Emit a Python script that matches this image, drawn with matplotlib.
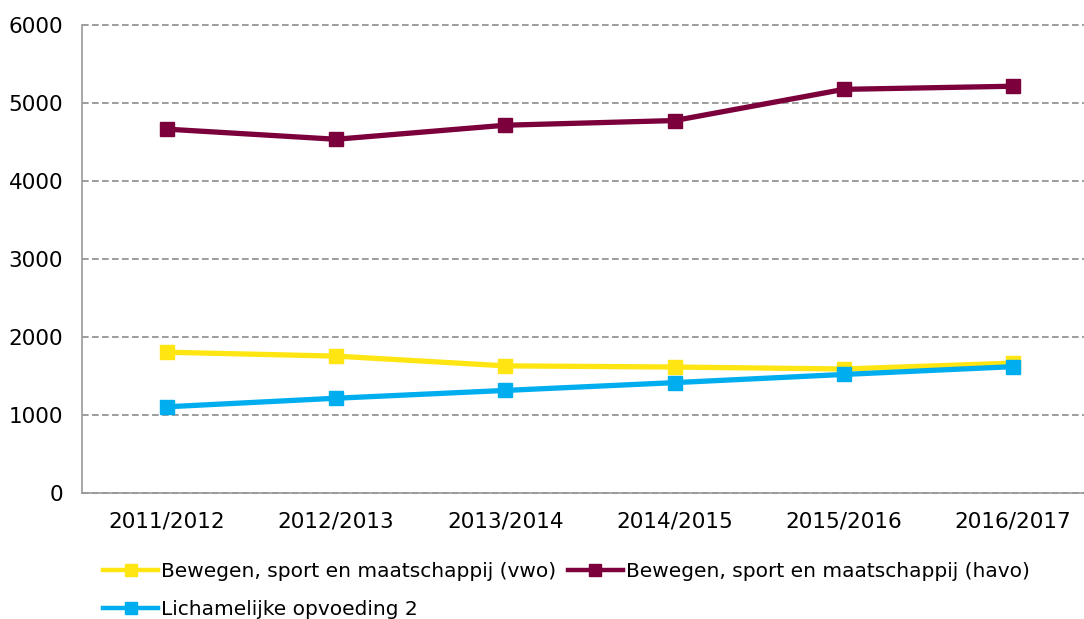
import matplotlib
matplotlib.use("Agg")
from matplotlib import pyplot as plt

years = ["2011/2012", "2012/2013", "2013/2014", "2014/2015", "2015/2016", "2016/2017"]
vwo = [1805, 1755, 1630, 1615, 1590, 1665]
havo = [4665, 4535, 4715, 4775, 5175, 5215]
lo2 = [1105, 1215, 1315, 1415, 1520, 1620]

labels = [
    "Bewegen, sport en maatschappij (vwo)",
    "Bewegen, sport en maatschappij (havo)",
    "Lichamelijke opvoeding 2",
]
colors = ["#FFE512", "#7B003C", "#00ADEF"]

fig = plt.figure(figsize=(10.84, 6.19), dpi=100)
ax = fig.add_axes([82 / 1084, 1 - 493 / 619, 6 * 169.3 / 1084, 468 / 619])

x = range(len(years))
lines = []
for vals, lab, col in zip([vwo, havo, lo2], labels, colors):
    ln, = ax.plot(x, vals, color=col, lw=3.8, marker="s", markersize=10,
                  label=lab, solid_joinstyle="round")
    lines.append(ln)

ax.set_xlim(-0.5, 5.5)
ax.set_ylim(0, 6000)
ax.set_yticks(range(0, 6001, 1000))
ax.set_xticks(list(x))
ax.set_xticklabels(years)
ax.yaxis.grid(True, color="#8c8c8c", ls=(0, (4, 2)), lw=1.2, clip_on=False)
ax.set_axisbelow(True)
for s in ["top", "right"]:
    ax.spines[s].set_visible(False)
for s in ["left", "bottom"]:
    ax.spines[s].set_color("#999999")
    ax.spines[s].set_linewidth(1.2)
ax.tick_params(length=0, labelsize=15.5, colors="black")
ax.tick_params(axis="y", pad=13.5)
ax.tick_params(axis="x", pad=13)

# legend: fill row by row (matplotlib fills column by column)
order = [0, 2, 1]
leg = fig.legend([lines[i] for i in order], [labels[i] for i in order],
                 loc="upper left", bbox_to_anchor=(95 / 1084, 1 - 554 / 619),
                 ncol=2, frameon=False, handlelength=2.75, handletextpad=0.15,
                 columnspacing=0.55, labelspacing=0.95,
                 prop={"size": 14.5}, borderaxespad=0)
for h in leg.legend_handles:
    h.set_linewidth(3.2)
    h.set_markersize(8.5)

fig.savefig("out.png", dpi=100)
